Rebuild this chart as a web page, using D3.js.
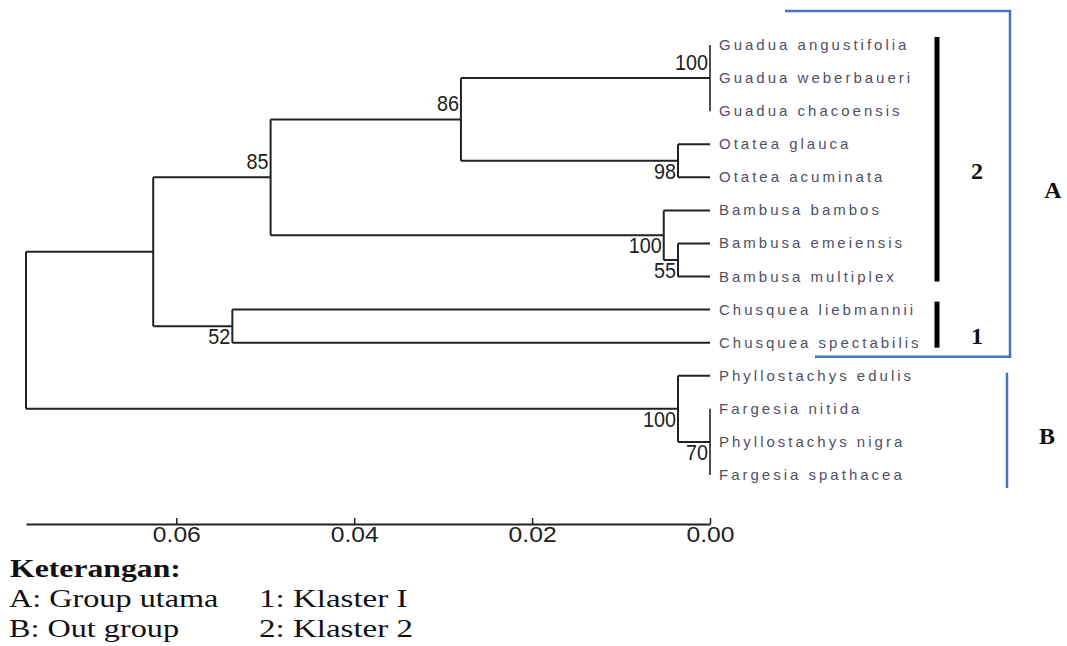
<!DOCTYPE html>
<html>
<head>
<meta charset="utf-8">
<script src="https://cdn.jsdelivr.net/npm/d3@7"></script>
<style>
  html, body { margin: 0; padding: 0; background: #fff; }
  #chart { width: 1067px; height: 646px; }
</style>
</head>
<body>
<div id="chart"></div>
<script>
// taxa, top to bottom
var taxa = [
    "Guadua angustifolia", "Guadua weberbaueri", "Guadua chacoensis",
    "Otatea glauca", "Otatea acuminata",
    "Bambusa bambos", "Bambusa emeiensis", "Bambusa multiplex",
    "Chusquea liebmannii", "Chusquea spectabilis",
    "Phyllostachys edulis", "Fargesia nitida", "Phyllostachys nigra", "Fargesia spathacea"
];
var leafParent = [
    "guadua", "guadua", "guadua",
    "otatea", "otatea",
    "bambusa", "bambusaSub", "bambusaSub",
    "chusquea", "chusquea",
    "out", "outSub", "outSub", "outSub"
];

// internal nodes: id, parent, height (distance to tips), bootstrap
var nodeIds = ["root", "A", "c85", "c86", "guadua", "otatea", "bambusa", "bambusaSub", "chusquea", "out", "outSub"];
var nodeParent = [null, "root", "A", "c85", "c86", "c86", "c85", "bambusa", "A", "root", "out"];
var nodeHeight = [0.0769, 0.0626, 0.0494, 0.0280, 0, 0.0036, 0.0052, 0.0036, 0.0537, 0.0036, 0];
var nodeSupport = [null, null, 85, 86, 100, 98, 100, 55, 52, 100, 70];

var scaleTicks = [0.06, 0.04, 0.02, 0.00];

var clusters = [
    { label: "2", first: "Guadua angustifolia", last: "Bambusa multiplex" },
    { label: "1", first: "Chusquea liebmannii", last: "Chusquea spectabilis" }
];
var groups = [
    { label: "A", first: "Guadua angustifolia", last: "Chusquea spectabilis" },
    { label: "B", first: "Phyllostachys edulis", last: "Fargesia spathacea" }
];

var legendTitle = "Keterangan:";
var legendLeft = ["A: Group utama", "B: Out group"];
var legendRight = ["1: Klaster I", "2: Klaster 2"];

var width = 1067, height = 646;
var lineColor = "#222";
var blue = "#4472c4";

var rows = nodeIds.map(function (id, i) {
    return { id: id, parent: nodeParent[i], height: nodeHeight[i], support: nodeSupport[i] };
}).concat(taxa.map(function (t, i) {
    return { id: t, parent: leafParent[i], height: 0, support: null };
}));

var root = d3.stratify()
    .id(function (d) { return d.id; })
    .parentId(function (d) { return d.parent; })(rows);

var x = d3.scaleLinear()
    .domain([d3.max(nodeHeight), 0])
    .range([26, 710]);
var y = d3.scalePoint()
    .domain(taxa)
    .range([45, 475]);

root.eachAfter(function (d) {
    if (!d.children) {
        d.py = y(d.id);
    } else {
        var ys = d.children.map(function (c) { return c.py; });
        d.py = (d3.min(ys) + d3.max(ys)) / 2;
        d.y0 = d3.min(ys);
        d.y1 = d3.max(ys);
    }
    d.px = x(d.data.height);
});

var svg = d3.select("#chart")
    .append("svg")
    .attr("width", width)
    .attr("height", height);

svg.append("rect")
    .attr("width", width)
    .attr("height", height)
    .attr("fill", "#fff");

var tree = svg.append("g")
    .attr("fill", "none")
    .attr("stroke", lineColor)
    .attr("stroke-width", 2);

// horizontal branches
tree.selectAll("path.h")
    .data(root.descendants().filter(function (d) { return d.parent; }))
    .enter()
    .append("path")
    .attr("class", "h")
    .attr("d", function (d) {
        return "M" + d.parent.px + "," + d.py + "H" + d.px;
    });

// vertical connectors
tree.selectAll("path.v")
    .data(root.descendants().filter(function (d) { return d.children; }))
    .enter()
    .append("path")
    .attr("class", "v")
    .attr("stroke-width", function (d) { return d.data.height === 0 ? 1.6 : 2; })
    .attr("d", function (d) {
        return "M" + d.px + "," + d.y0 + "V" + d.y1;
    });

// bootstrap values
var supportAbove = ["c85", "c86", "guadua"];
svg.append("g")
    .selectAll("text")
    .data(root.descendants().filter(function (d) { return d.data.support != null; }))
    .enter()
    .append("text")
    .attr("x", function (d) { return d.px - 2; })
    .attr("y", function (d) {
        return supportAbove.indexOf(d.id) >= 0 ? d.py - 8 : d.py + 18;
    })
    .attr("text-anchor", "end")
    .attr("font-family", "Liberation Sans, Arial, sans-serif")
    .attr("font-size", 22)
    .attr("fill", "#222")
    .attr("textLength", function (d) { return String(d.data.support).length * 11; })
    .attr("lengthAdjust", "spacingAndGlyphs")
    .text(function (d) { return d.data.support; });

// taxon labels
svg.append("g")
    .selectAll("text")
    .data(taxa)
    .enter()
    .append("text")
    .attr("x", 719)
    .attr("y", function (d) { return y(d) + 5; })
    .attr("font-family", "Liberation Sans, Arial, sans-serif")
    .attr("font-size", 15)
    .attr("letter-spacing", 3)
    .attr("fill", "#4f4f66")
    .text(function (d) { return d; });

// scale bar
var axis = d3.axisBottom(x)
    .tickValues(scaleTicks)
    .tickFormat(d3.format(".2f"))
    .tickSizeInner(-6)
    .tickSizeOuter(0)
    .tickPadding(2);

var ax = svg.append("g")
    .attr("transform", "translate(0,524)")
    .call(axis);
ax.select(".domain").attr("stroke", lineColor).attr("stroke-width", 2);
ax.selectAll(".tick line").attr("stroke", lineColor).attr("stroke-width", 1.5);
ax.selectAll(".tick text")
    .attr("font-family", "Liberation Sans, Arial, sans-serif")
    .attr("font-size", 22)
    .attr("fill", "#222")
    .attr("textLength", 48)
    .attr("lengthAdjust", "spacingAndGlyphs");

// cluster bars (black)
var cl = svg.append("g");
cl.selectAll("line")
    .data(clusters)
    .enter()
    .append("line")
    .attr("x1", 937).attr("x2", 937)
    .attr("y1", function (d) { return y(d.first) - 8; })
    .attr("y2", function (d) { return y(d.last) + 5; })
    .attr("stroke", "#000")
    .attr("stroke-width", 5);
cl.selectAll("text")
    .data(clusters)
    .enter()
    .append("text")
    .attr("x", 977)
    .attr("y", function (d) { return (y(d.first) + y(d.last)) / 2 + 18; })
    .attr("text-anchor", "middle")
    .attr("font-family", "Liberation Serif, Times New Roman, serif")
    .attr("font-weight", "bold")
    .attr("font-size", 24)
    .attr("fill", "#111")
    .text(function (d) { return d.label; });

// group brackets (blue)
var gA = groups[0], gB = groups[1];
var aTop = y(gA.first) - 34, aBot = y(gA.last) + 14;
svg.append("path")
    .attr("d", "M785," + aTop + "H1010V" + aBot + "H815")
    .attr("fill", "none")
    .attr("stroke", blue)
    .attr("stroke-width", 2.5);
var bTop = y(gB.first) - 3, bBot = y(gB.last) + 13;
svg.append("line")
    .attr("x1", 1007).attr("x2", 1007)
    .attr("y1", bTop).attr("y2", bBot)
    .attr("stroke", blue)
    .attr("stroke-width", 2.5);

svg.selectAll("text.grp")
    .data([
        { label: gA.label, x: 1053, y: (aTop + aBot) / 2 + 14 },
        { label: gB.label, x: 1047, y: (bTop + bBot) / 2 + 14 }
    ])
    .enter()
    .append("text")
    .attr("class", "grp")
    .attr("x", function (d) { return d.x; })
    .attr("y", function (d) { return d.y; })
    .attr("text-anchor", "middle")
    .attr("font-family", "Liberation Serif, Times New Roman, serif")
    .attr("font-weight", "bold")
    .attr("font-size", 24)
    .attr("fill", "#111")
    .text(function (d) { return d.label; });

// legend
var leg = svg.append("g")
    .attr("font-family", "Liberation Serif, Times New Roman, serif")
    .attr("font-size", 26)
    .attr("fill", "#111");
leg.append("text")
    .attr("transform", "translate(10,577) scale(1.22,1)")
    .attr("font-weight", "bold")
    .text(legendTitle);
leg.selectAll("text.l")
    .data(legendLeft)
    .enter()
    .append("text")
    .attr("class", "l")
    .attr("transform", function (d, i) { return "translate(9," + (607 + i * 30) + ") scale(1.24,1)"; })
    .text(function (d) { return d; });
leg.selectAll("text.r")
    .data(legendRight)
    .enter()
    .append("text")
    .attr("class", "r")
    .attr("transform", function (d, i) { return "translate(259," + (607 + i * 30) + ") scale(1.27,1)"; })
    .text(function (d) { return d; });
</script>
</body>
</html>
